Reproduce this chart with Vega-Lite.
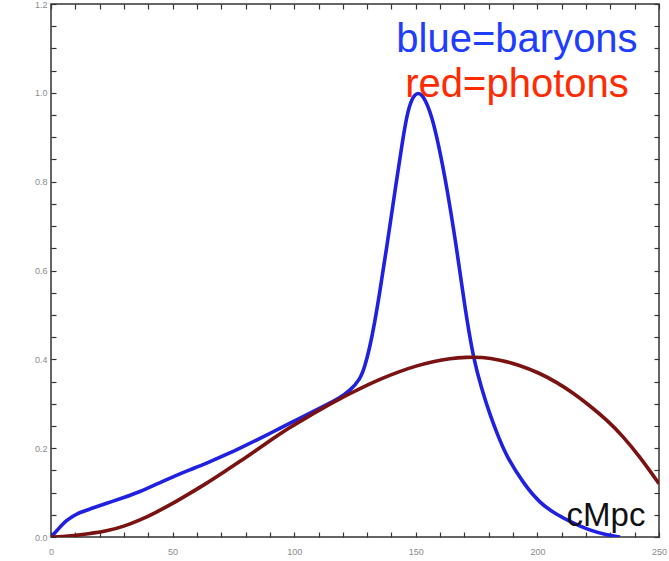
{
  "$schema": "https://vega.github.io/schema/vega-lite/v6.json",
  "width": 608,
  "height": 533,
  "autosize": "none",
  "padding": {"left": 51, "top": 4, "right": 10, "bottom": 24},
  "background": "white",
  "config": {
    "view": {"stroke": "#333333", "strokeWidth": 1.5},
    "axis": {"domain": false, "grid": false, "ticks": true, "tickSize": 5, "tickColor": "#333333", "tickWidth": 1.2, "labelColor": "#8a8a8a", "labelFont": "Liberation Sans", "labelFontSize": 9, "labelOverlap": false, "labelBound": false, "labelFlush": false, "title": null}
  },
  "datasets": {
    "curves": [
      {"x": 0, "y": 0, "series": "baryons"},
      {"x": 3, "y": 0.018, "series": "baryons"},
      {"x": 6.4, "y": 0.038, "series": "baryons"},
      {"x": 10.6, "y": 0.053, "series": "baryons"},
      {"x": 16, "y": 0.063, "series": "baryons"},
      {"x": 22.9, "y": 0.076, "series": "baryons"},
      {"x": 30, "y": 0.089, "series": "baryons"},
      {"x": 36.6, "y": 0.102, "series": "baryons"},
      {"x": 43, "y": 0.118, "series": "baryons"},
      {"x": 50.3, "y": 0.136, "series": "baryons"},
      {"x": 57, "y": 0.151, "series": "baryons"},
      {"x": 64, "y": 0.166, "series": "baryons"},
      {"x": 71, "y": 0.183, "series": "baryons"},
      {"x": 77.7, "y": 0.2, "series": "baryons"},
      {"x": 84.5, "y": 0.218, "series": "baryons"},
      {"x": 91.4, "y": 0.237, "series": "baryons"},
      {"x": 98, "y": 0.256, "series": "baryons"},
      {"x": 105.1, "y": 0.275, "series": "baryons"},
      {"x": 112, "y": 0.294, "series": "baryons"},
      {"x": 118.8, "y": 0.313, "series": "baryons"},
      {"x": 123, "y": 0.33, "series": "baryons"},
      {"x": 127, "y": 0.354, "series": "baryons"},
      {"x": 129, "y": 0.383, "series": "baryons"},
      {"x": 131, "y": 0.425, "series": "baryons"},
      {"x": 133, "y": 0.48, "series": "baryons"},
      {"x": 135, "y": 0.545, "series": "baryons"},
      {"x": 138, "y": 0.65, "series": "baryons"},
      {"x": 142, "y": 0.8, "series": "baryons"},
      {"x": 144.5, "y": 0.89, "series": "baryons"},
      {"x": 146.3, "y": 0.95, "series": "baryons"},
      {"x": 148.5, "y": 0.99, "series": "baryons"},
      {"x": 151, "y": 1.003, "series": "baryons"},
      {"x": 153.5, "y": 0.99, "series": "baryons"},
      {"x": 156.5, "y": 0.95, "series": "baryons"},
      {"x": 159.5, "y": 0.88, "series": "baryons"},
      {"x": 162.7, "y": 0.79, "series": "baryons"},
      {"x": 166.8, "y": 0.65, "series": "baryons"},
      {"x": 169.5, "y": 0.545, "series": "baryons"},
      {"x": 171, "y": 0.49, "series": "baryons"},
      {"x": 173.6, "y": 0.405, "series": "baryons"},
      {"x": 177, "y": 0.335, "series": "baryons"},
      {"x": 180.5, "y": 0.275, "series": "baryons"},
      {"x": 184, "y": 0.225, "series": "baryons"},
      {"x": 187.4, "y": 0.181, "series": "baryons"},
      {"x": 194.2, "y": 0.121, "series": "baryons"},
      {"x": 201, "y": 0.076, "series": "baryons"},
      {"x": 208, "y": 0.05, "series": "baryons"},
      {"x": 214.8, "y": 0.031, "series": "baryons"},
      {"x": 221, "y": 0.016, "series": "baryons"},
      {"x": 228.5, "y": 0.0045, "series": "baryons"},
      {"x": 234, "y": 0, "series": "baryons"},
      {"x": 0, "y": 0, "series": "photons"},
      {"x": 5, "y": 0.001, "series": "photons"},
      {"x": 9.2, "y": 0.003, "series": "photons"},
      {"x": 15, "y": 0.007, "series": "photons"},
      {"x": 22.9, "y": 0.013, "series": "photons"},
      {"x": 30, "y": 0.024, "series": "photons"},
      {"x": 36.6, "y": 0.038, "series": "photons"},
      {"x": 43, "y": 0.055, "series": "photons"},
      {"x": 50.3, "y": 0.076, "series": "photons"},
      {"x": 57, "y": 0.098, "series": "photons"},
      {"x": 64, "y": 0.121, "series": "photons"},
      {"x": 71, "y": 0.146, "series": "photons"},
      {"x": 77.7, "y": 0.17, "series": "photons"},
      {"x": 84.5, "y": 0.196, "series": "photons"},
      {"x": 91.4, "y": 0.222, "series": "photons"},
      {"x": 98, "y": 0.246, "series": "photons"},
      {"x": 105.1, "y": 0.269, "series": "photons"},
      {"x": 112, "y": 0.291, "series": "photons"},
      {"x": 118.8, "y": 0.311, "series": "photons"},
      {"x": 123, "y": 0.323, "series": "photons"},
      {"x": 130, "y": 0.342, "series": "photons"},
      {"x": 136, "y": 0.357, "series": "photons"},
      {"x": 143.5, "y": 0.373, "series": "photons"},
      {"x": 150, "y": 0.385, "series": "photons"},
      {"x": 157.2, "y": 0.395, "series": "photons"},
      {"x": 164, "y": 0.402, "series": "photons"},
      {"x": 170.9, "y": 0.405, "series": "photons"},
      {"x": 177, "y": 0.405, "series": "photons"},
      {"x": 184.6, "y": 0.399, "series": "photons"},
      {"x": 192, "y": 0.388, "series": "photons"},
      {"x": 201, "y": 0.369, "series": "photons"},
      {"x": 208, "y": 0.348, "series": "photons"},
      {"x": 214.8, "y": 0.324, "series": "photons"},
      {"x": 221, "y": 0.298, "series": "photons"},
      {"x": 228.5, "y": 0.264, "series": "photons"},
      {"x": 235, "y": 0.228, "series": "photons"},
      {"x": 242.2, "y": 0.18, "series": "photons"},
      {"x": 250, "y": 0.12, "series": "photons"}
    ]
  },
  "layer": [
    {
      "encoding": {
        "x": {"field": "x", "type": "quantitative", "scale": {"domain": [0, 250], "nice": false},
          "axis": {"orient": "bottom", "offset": -5, "values": [0,10,20,30,40,50,60,70,80,90,100,110,120,130,140,150,160,170,180,190,200,210,220,230,240,250],
            "labelExpr": "datum.value % 50 === 0 ? datum.label : ''", "format": "d", "labelPadding": 10}},
        "y": {"field": "y", "type": "quantitative", "scale": {"domain": [0, 1.2], "nice": false},
          "axis": {"orient": "left", "offset": -5, "values": [0,0.05,0.1,0.15,0.2,0.25,0.3,0.35,0.4,0.45,0.5,0.55,0.6,0.65,0.7,0.75,0.8,0.85,0.9,0.95,1.0,1.05,1.1,1.15,1.2],
            "format": ".1f", "labelExpr": "round(datum.value*100) % 20 === 0 ? datum.label : ''", "labelPadding": 4}}
      },
      "layer": [
        {
          "data": {"name": "curves"},
          "mark": {"type": "line", "strokeWidth": 3.6, "interpolate": "basis", "clip": true},
          "encoding": {
            "color": {"field": "series", "type": "nominal", "scale": {"domain": ["baryons", "photons"], "range": ["#2020e0", "#7a1212"]}, "legend": null}
          }
        },
        {
          "data": {"values": [{"x": 191.6, "y": 1.092, "label": "blue=baryons"}]},
          "mark": {"type": "text", "font": "Liberation Sans", "fontSize": 40, "color": "#1f3dff", "align": "center", "baseline": "alphabetic"},
          "encoding": {"text": {"field": "label"}}
        },
        {
          "data": {"values": [{"x": 191.6, "y": 0.991, "label": "red=photons"}]},
          "mark": {"type": "text", "font": "Liberation Sans", "fontSize": 40, "color": "#ff2a00", "align": "center", "baseline": "alphabetic"},
          "encoding": {"text": {"field": "label"}}
        },
        {
          "data": {"values": [{"x": 228.2, "y": 0.025, "label": "cMpc"}]},
          "mark": {"type": "text", "font": "Liberation Sans", "fontSize": 33, "color": "#111111", "align": "center", "baseline": "alphabetic"},
          "encoding": {"text": {"field": "label"}}
        }
      ]
    },
    {
      "data": {"name": "curves"},
      "mark": {"type": "line", "opacity": 0},
      "encoding": {
        "x": {"field": "x", "type": "quantitative", "scale": {"domain": [0, 250], "nice": false},
          "axis": {"orient": "top", "offset": -5, "labels": false, "values": [0,10,20,30,40,50,60,70,80,90,100,110,120,130,140,150,160,170,180,190,200,210,220,230,240,250]}},
        "y": {"field": "y", "type": "quantitative", "scale": {"domain": [0, 1.2], "nice": false},
          "axis": {"orient": "right", "offset": -5, "labels": false, "values": [0,0.05,0.1,0.15,0.2,0.25,0.3,0.35,0.4,0.45,0.5,0.55,0.6,0.65,0.7,0.75,0.8,0.85,0.9,0.95,1.0,1.05,1.1,1.15,1.2]}}
      }
    }
  ],
  "resolve": {"scale": {"x": "independent", "y": "independent"}}
}
